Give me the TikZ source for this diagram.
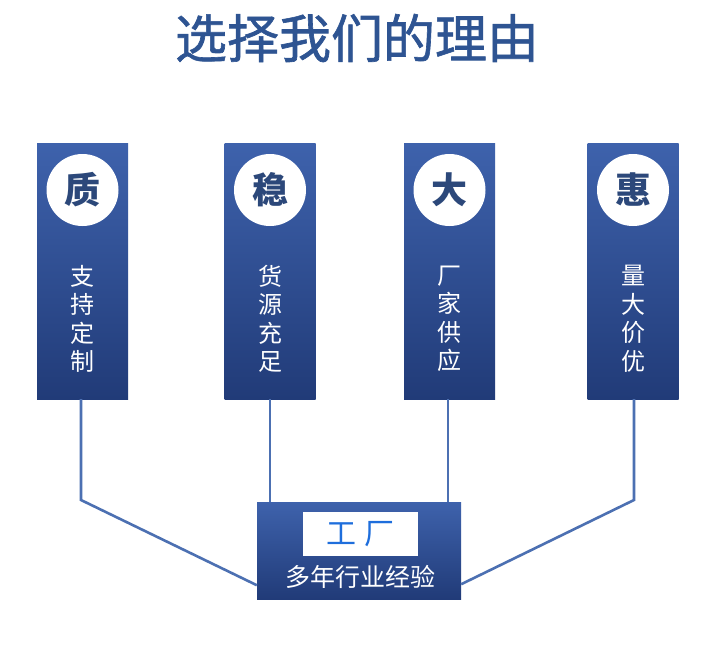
\documentclass[tikz,border=0pt]{standalone}
\usepackage{fontspec}
\usepackage{xcolor}
\usepackage{tikz}
\usetikzlibrary{calc}
\newfontfamily\cjk{Noto Sans CJK SC}
\newfontfamily\cjkmid[FakeBold=1.2]{Noto Sans CJK SC}
\definecolor{TitleBlue}{RGB}{46,84,146}
\definecolor{ColTop}{RGB}{62,98,172}
\definecolor{ColBot}{RGB}{33,59,120}
\definecolor{MarkBlue}{RGB}{44,72,122}
\definecolor{LineBlue}{RGB}{76,112,178}
\definecolor{FacBlue}{RGB}{30,110,220}
\tikzset{Col/.style={rectangle,minimum width=91pt,minimum height=256pt,inner sep=0pt,
    top color=ColTop,bottom color=ColBot,draw=none},
  Mark/.style={circle,fill=white,minimum size=72pt,inner sep=0pt,text=MarkBlue,
    font=\cjk\bfseries\fontsize{36}{36}\selectfont},
  Lbl/.style={text=white,align=center,font=\cjk\fontsize{24}{28.5}\selectfont}}
\begin{document}
\begin{tikzpicture}[x=1pt,y=-1pt]
    \path[use as bounding box,fill=white] (0,0) rectangle (708,646);
    \node[text=TitleBlue,font=\cjkmid\fontsize{52}{52}\selectfont] (T) at (357,38) {选择我们的理由};
    \node[Col] (C1) at (82.5,271) {};
    \node[Col] (C2) at (270,271) {};
    \node[Col] (C3) at (449.5,271) {};
    \node[Col] (C4) at (633,271) {};
    \node[Mark] (M1) at (82.5,190) {质};
    \node[Mark] (M2) at (270,190) {稳};
    \node[Mark] (M3) at (449.5,190) {大};
    \node[Mark] (M4) at (633,190) {惠};
    \node[Lbl] (L1) at (82.5,319) {支\\持\\定\\制};
    \node[Lbl] (L2) at (270,319) {货\\源\\充\\足};
    \node[Lbl] (L3) at (449.5,319) {厂\\家\\供\\应};
    \node[Lbl] (L4) at (633,319) {量\\大\\价\\优};
    \node[rectangle,minimum width=204pt,minimum height=97pt,inner sep=0pt,
      top color=ColTop,bottom color=ColBot] (F) at (359,550.5) {};
    \node[rectangle,fill=white,minimum width=115pt,minimum height=44pt,inner sep=0pt,
      text=FacBlue,font=\cjk\fontsize{30}{30}\selectfont] (Fa) at (360.5,534) {工\hspace{8pt}厂};
    \node[text=white,font=\cjk\fontsize{25}{25}\selectfont] (Fb) at (360,577) {多年行业经验};
    \coordinate (B1) at (81,500);
    \coordinate (B4) at (634,500);
    \begin{scope}[draw=LineBlue,line width=2.6pt]
      \draw (C1.south -| B1) -- (B1) -- ($(F.south west)+(0,-14)$);
      \draw (C2.south) -- (C2.south |- F.north);
      \draw ($(C3.south)+(-1.5,0)$) -- ($(C3.south |- F.north)+(-1.5,0)$);
      \draw (C4.south -| B4) -- (B4) -- ($(F.south east)+(0,-15)$);
    \end{scope}
\end{tikzpicture}
\end{document}
